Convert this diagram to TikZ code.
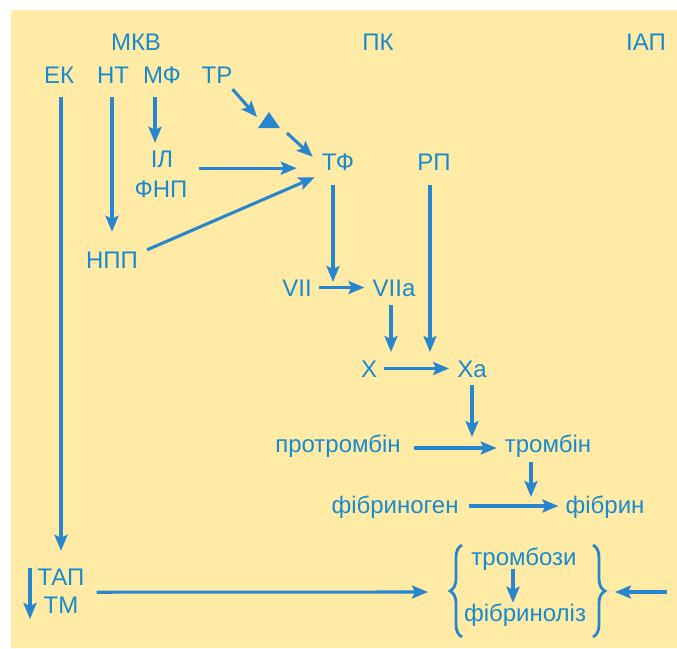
\documentclass[tikz,border=0pt]{standalone}
\usepackage{fontspec}
\setmainfont{Liberation Sans}
\usetikzlibrary{arrows.meta,decorations.pathreplacing}
\definecolor{txtblue}{RGB}{25,138,206}
\definecolor{arrblue}{RGB}{40,134,206}
\definecolor{bgyellow}{RGB}{255,235,166}
\tikzset{
  lbl/.style={font=\fontsize{24}{27}\selectfont, text=txtblue, inner sep=0pt,
              text height=17pt, text depth=0pt, anchor=base},
  arr/.style={draw=arrblue, line width=3.1pt,
              -{Stealth[length=16pt,width=13pt,inset=3pt]}},
  brc/.style={draw=arrblue, line width=2.8pt, decorate,
              decoration={brace, amplitude=12pt}}
}
\begin{document}
\begin{tikzpicture}[x=1pt,y=-1pt]
\useasboundingbox (0,0) rectangle (677,648);
\fill[bgyellow] (11,10) rectangle (677,648);

% headings
\node[lbl] (mkv) at (136,50) {МКВ};
\node[lbl] (pk) at (378,50) {ПК};
\node[lbl] (iap) at (646,50) {ІАП};
% top row
\node[lbl] (ek) at (59,83) {ЕК};
\node[lbl] (nt) at (113,83) {НТ};
\node[lbl] (mf) at (162,83) {МФ};
\node[lbl] (tr) at (217,83) {ТР};
\node[lbl] (il) at (162,167) {ІЛ};
\node[lbl] (fnp) at (161,197) {ФНП};
\node[lbl] (tf) at (338,170) {ТФ};
\node[lbl] (rp) at (434,170) {РП};
\node[lbl] (npp) at (112,268) {НПП};
\node[lbl] (vii) at (297,296) {VII};
\node[lbl] (viia) at (394,296) {VIIa};
\node[lbl] (x) at (369,377) {X};
\node[lbl] (xa) at (472,377) {Xa};
\node[lbl] (protr) at (338,452) {протромбін};
\node[lbl] (tromb) at (548,452) {тромбін};
\node[lbl] (fibrg) at (395,513) {фібриноген};
\node[lbl] (fibr) at (605,513) {фібрин};
\node[lbl] (tap) at (61,585) {ТАП};
\node[lbl] (tm) at (61,613) {ТМ};
\node[lbl] (trz) at (524,565) {тромбози};
\node[lbl] (fibl) at (525,621) {фібриноліз};

% triangle
\coordinate (tri) at (269,121);
\fill[arrblue] ([shift={(-11,7)}]tri) -- ([shift={(11,7)}]tri) -- ([shift={(0,-9)}]tri) -- cycle;

% connectors
\draw[arr, shorten <=14pt, shorten >=17pt] (ek.south -| tap.north) -- (tap.north);
\draw[arr, shorten <=14pt, shorten >=19pt] (nt.south -| npp.north) -- (npp.north);
\coordinate (mfs) at ([xshift=-7pt]mf.south);
\coordinate (iln) at ([xshift=-7pt]il.north);
\draw[arr, shorten <=14pt, shorten >=7pt] (mfs) -- (iln);
\draw[arr] ([shift={(0,6)}]tr.south east) -- ([shift={(-12,-4)}]tri);
\draw[arr] ([shift={(18,12)}]tri) -- ([shift={(-9,4)}]tf.north west);
\draw[arr] ([shift={(26,1)}]il.south east) -- ([shift={(-25,-2)}]tf.south west);
\draw[arr] ([shift={(9,-1)}]npp.north east) -- ([shift={(-7,7)}]tf.south west);

\coordinate (tfs) at ([xshift=-5pt]tf.south);
\draw[arr, shorten <=15pt, shorten >=5.5pt] (tfs) -- (tfs |- vii.center);
\draw[arr, shorten <=7pt, shorten >=8pt] (vii.east) -- (viia.west);
\coordinate (vas) at ([xshift=-3pt]viia.south);
\draw[arr, shorten <=9pt, shorten >=16.5pt] (vas) -- (vas |- x.center);
\coordinate (rps) at ([xshift=-4pt]rp.south);
\draw[arr, shorten <=15pt, shorten >=16.5pt] (rps) -- (rps |- xa.center);
\draw[arr, shorten <=7pt, shorten >=8pt] (x.east) -- (xa.west);
\draw[arr, shorten <=8pt, shorten >=6.5pt] (xa.south) -- (xa.south |- tromb.center);
\draw[arr, shorten <=13pt, shorten >=8pt] ([yshift=-4.5pt]protr.east) -- ([yshift=-4.5pt]tromb.west);
\coordinate (trs) at ([xshift=-17pt]tromb.south);
\draw[arr, shorten <=10pt, shorten >=7.5pt] (trs) -- (trs |- fibr.center);
\draw[arr, shorten <=10pt, shorten >=7pt] ([yshift=-1.5pt]fibrg.east) -- ([yshift=-1.5pt]fibr.west);

% bottom
\coordinate (lb) at (449,592);
\coordinate (rb) at (607,592);
\coordinate (iapin) at (667,592);
\draw[arr, shorten >=21pt] ([shift={(12,7)}]tap.south east) -- (lb);
\draw[arr, shorten >=8pt] (iapin) -- (rb);
\coordinate (tzs) at ([xshift=-11pt]trz.south);
\draw[arr, shorten <=4pt, shorten >=1pt] (tzs) -- (tzs |- fibl.north);
\coordinate (d1) at (30,568);
\coordinate (d2) at (30,619);
\draw[arr] (d1) -- (d2);

% braces
\draw[brc] (462,637) -- (462,545);
\draw[brc] (593,545) -- (593,637);
\end{tikzpicture}
\end{document}
